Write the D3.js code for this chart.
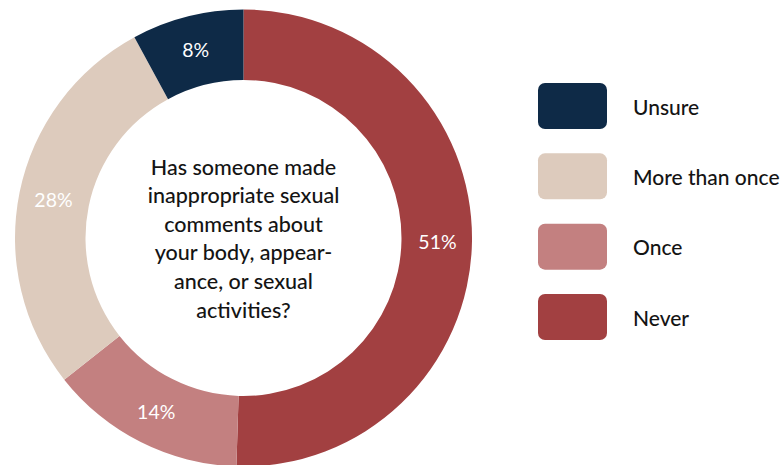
<!DOCTYPE html>
<html>
<head>
<meta charset="utf-8">
<script src="https://cdn.jsdelivr.net/npm/d3@7"></script>
<style>
  html, body { margin: 0; padding: 0; background: #fff; }
  svg { display: block; font-family: Lato, "Open Sans", sans-serif; }
</style>
</head>
<body>
<svg id="chart" width="783" height="465"></svg>
<script>
// Survey answers, drawn clockwise from 12 o'clock
const categories = ["Never", "Once", "More than once", "Unsure"];
const values = [51, 14, 28, 8];
const colors = ["#A24041", "#C38080", "#DDCBBD", "#0E2A47"];
// Legend reads top to bottom in this order
const legendOrder = ["Unsure", "More than once", "Once", "Never"];
const questionLines = [
  "Has someone made",
  "inappropriate sexual",
  "comments about",
  "your body, appear-",
  "ance, or sexual",
  "activities?"
];

const svg = d3.select("#chart");
const cx = 243.5, cy = 238;
const outerR = 228.5, innerR = 158;

const color = d3.scaleOrdinal().domain(categories).range(colors);

const pie = d3.pie()
  .value(d => d.value)
  .sort(null);

const data = categories.map((c, i) => ({ category: c, value: values[i] }));
const arcs = pie(data);

const arc = d3.arc().innerRadius(innerR).outerRadius(outerR);
const labelArc = d3.arc().innerRadius(194).outerRadius(194);

const g = svg.append("g").attr("transform", `translate(${cx},${cy})`);

g.selectAll("path.slice")
  .data(arcs)
  .join("path")
  .attr("class", "slice")
  .attr("d", arc)
  .attr("fill", d => color(d.data.category));

g.selectAll("text.pct")
  .data(arcs)
  .join("text")
  .attr("class", "pct")
  .attr("transform", d => `translate(${labelArc.centroid(d)})`)
  .attr("text-anchor", "middle")
  .attr("dominant-baseline", "central")
  .attr("fill", "#ffffff")
  .attr("font-size", 19.5)
  .text(d => d.data.value + "%");

// Question in the hole of the ring
const lineH = 28.6;
g.append("text")
  .attr("text-anchor", "middle")
  .attr("fill", "#141414")
  .attr("font-size", 21.5)
  .attr("font-weight", 500)
  .selectAll("tspan")
  .data(questionLines)
  .join("tspan")
  .attr("x", 0)
  .attr("y", (d, i) => (i - (questionLines.length - 1) / 2) * lineH + 8)
  .text(d => d);

// Legend
const legendY = d3.scalePoint().domain(legendOrder).range([106, 317]);
const lg = svg.append("g").attr("transform", "translate(538,0)");
const items = lg.selectAll("g.item")
  .data(legendOrder)
  .join("g")
  .attr("class", "item")
  .attr("transform", d => `translate(0,${legendY(d)})`);

items.append("rect")
  .attr("x", 0)
  .attr("y", -23)
  .attr("width", 69)
  .attr("height", 46)
  .attr("rx", 7)
  .attr("fill", d => color(d));

items.append("text")
  .attr("x", 95)
  .attr("y", 0)
  .attr("dominant-baseline", "central")
  .attr("fill", "#141414")
  .attr("font-size", 21)
  .attr("font-weight", 500)
  .text(d => d);
</script>
</body>
</html>
